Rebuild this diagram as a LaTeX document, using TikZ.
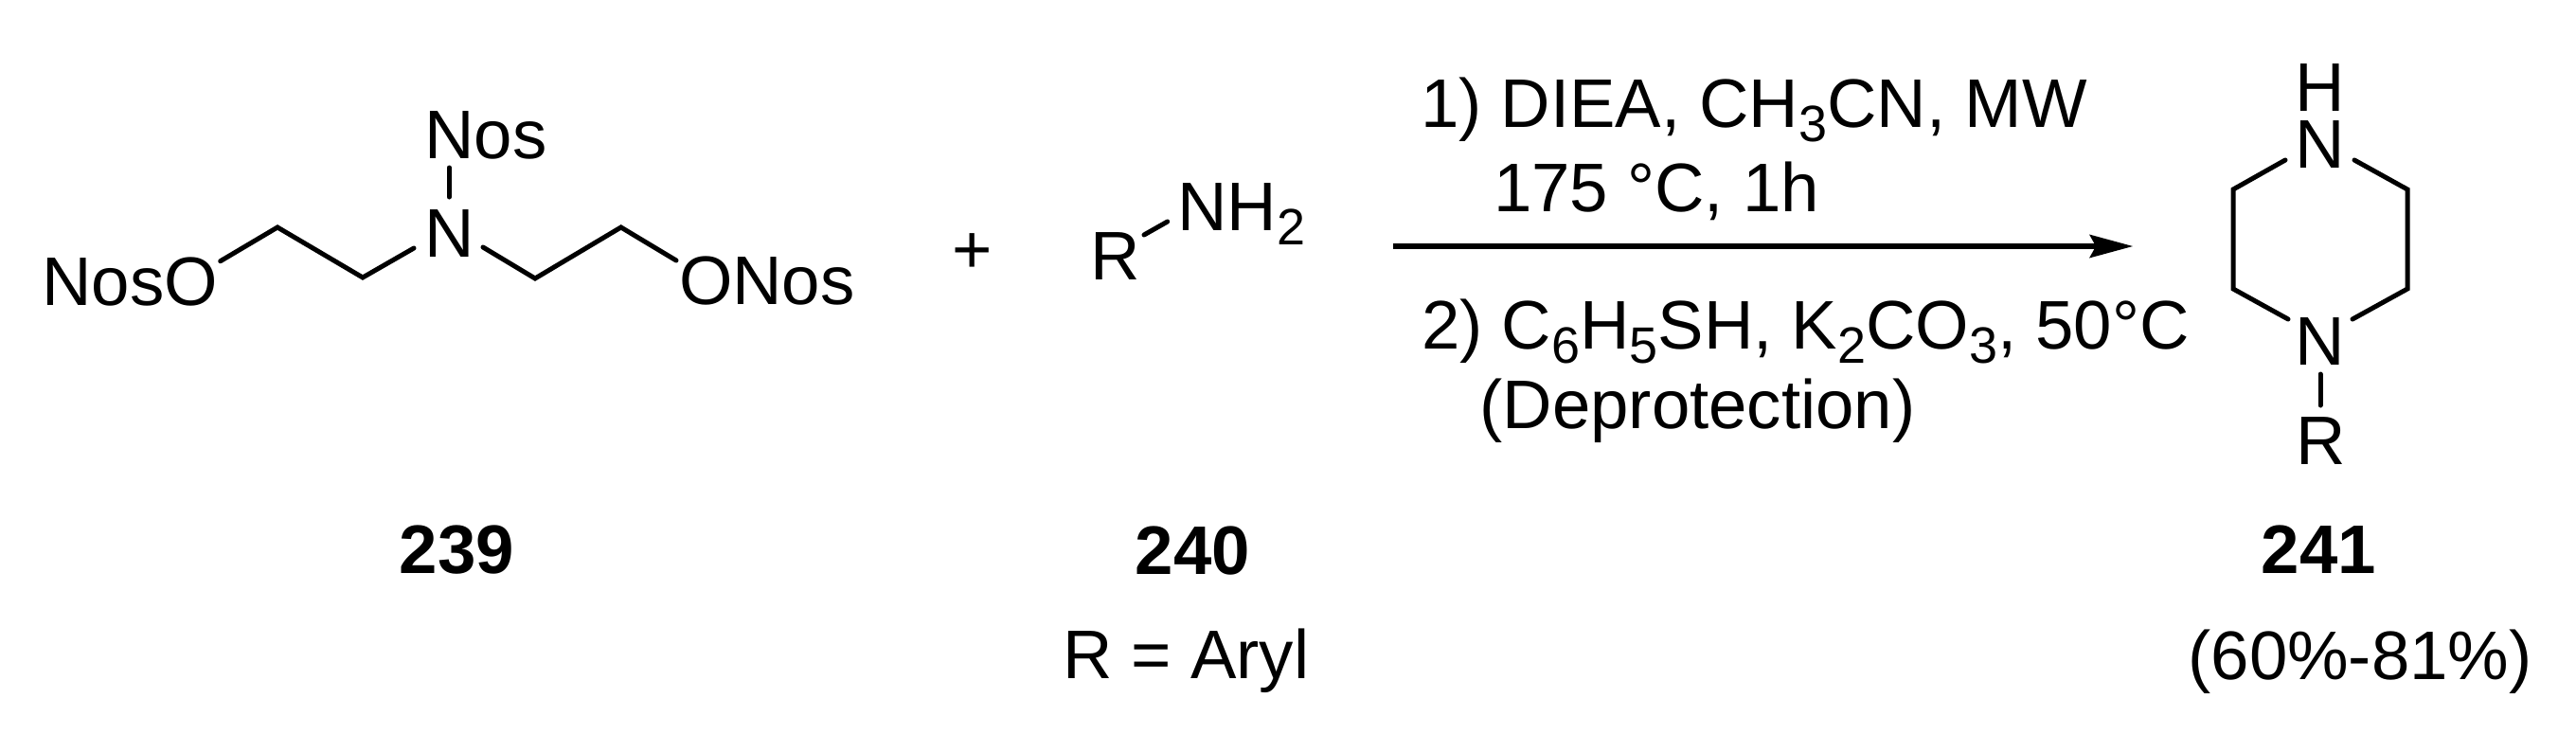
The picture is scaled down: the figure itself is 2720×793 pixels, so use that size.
\documentclass[tikz,border=0pt]{standalone}
\usepackage{fontspec}
\setmainfont[Kerning=Off]{Liberation Sans}
\usetikzlibrary{arrows.meta}
\newcommand{\chemsub}[1]{\raisebox{-15pt}{\fontsize{54}{54}\selectfont #1}}
\tikzset{
  x=1pt,y=-1pt,
  lbl/.style={inner sep=0pt,outer sep=0pt,anchor=base west,font=\fontsize{72.6}{80}\selectfont},
  cmpd/.style={inner sep=0pt,outer sep=0pt,anchor=base,font=\fontsize{72.6}{80}\selectfont\bfseries},
  bond/.style={line width=5pt,line cap=round,line join=miter},
  rxnarrow/.style={line width=5.3pt,-{Stealth[length=46pt,width=25pt,inset=7pt,line width=0pt]}}
}
\begin{document}
\begin{tikzpicture}
\useasboundingbox (0,0) rectangle (2720,793);
% 239
\node[lbl] (nos1) at (448.5,167) {Nos};
\node[lbl] (n1) at (448.5,271) {N};
\node[lbl] (nosoL) at (44.5,322.7) {NosO};
\node[lbl] (onosR) at (717,321.7) {ONos};
\coordinate (a1) at (474.3,177); \coordinate (a2) at (474.3,208);
\draw[bond] (a1) -- (a2);
\coordinate (l1) at (232.7,275.7); \coordinate (l2) at (293,240); \coordinate (l3) at (383,293); \coordinate (l4) at (437,262);
\draw[bond] (l1) -- (l2) -- (l3) -- (l4);
\coordinate (r1) at (510,261); \coordinate (r2) at (565,294); \coordinate (r3) at (655.7,240); \coordinate (r4) at (714,275);
\draw[bond] (r1) -- (r2) -- (r3) -- (r4);
\node[cmpd] (c239) at (482.5,605.7) {239};
% plus
\node[lbl,anchor=base] (plus) at (1027,288.5) {+};
% 240
\node[lbl] (rA) at (1151,295) {R};
\node[lbl] (nh2) at (1243.5,243) {NH\chemsub{2}};
\coordinate (b1) at (1208,248); \coordinate (b2) at (1232.7,234);
\draw[bond] (b1) -- (b2);
\node[cmpd] (c240) at (1259.5,606) {240};
\node[lbl] (aryl) at (1122,716.7) {R = Aryl};
% conditions
\node[lbl] (t1) at (1500,134) {1) DIEA, CH\chemsub{3}CN, MW};
\node[lbl] (t2) at (1577,223) {175 °C, 1h};
\node[lbl] (t3) at (1501,368) {2) C\chemsub{6}H\chemsub{5}SH, K\chemsub{2}CO\chemsub{3}, 50°C};
\node[lbl] (t4) at (1562.5,452) {(Deprotection)};
\coordinate (as) at (1471,260); \coordinate (ae) at (2252,260);
\draw[rxnarrow] (as) -- (ae);
% 241
\node[lbl,anchor=base] (h) at (2450,117) {H};
\node[lbl,anchor=base] (nt) at (2450,177) {N};
\node[lbl,anchor=base] (nb) at (2450,385) {N};
\node[lbl] (rb) at (2424,490) {R};
\coordinate (p1) at (2413,169); \coordinate (p2) at (2358,200); \coordinate (p3) at (2358,305); \coordinate (p4) at (2416,337);
\draw[bond] (p1) -- (p2) -- (p3) -- (p4);
\coordinate (q1) at (2486,169); \coordinate (q2) at (2542,200); \coordinate (q3) at (2542,305); \coordinate (q4) at (2484,337);
\draw[bond] (q1) -- (q2) -- (q3) -- (q4);
\coordinate (s1) at (2450,395); \coordinate (s2) at (2450,428);
\draw[bond] (s1) -- (s2);
\node[cmpd] (c241) at (2448.5,605.7) {241};
\node[lbl] (yield) at (2310.5,717) {(60\%-81\%)};
\end{tikzpicture}
\end{document}
